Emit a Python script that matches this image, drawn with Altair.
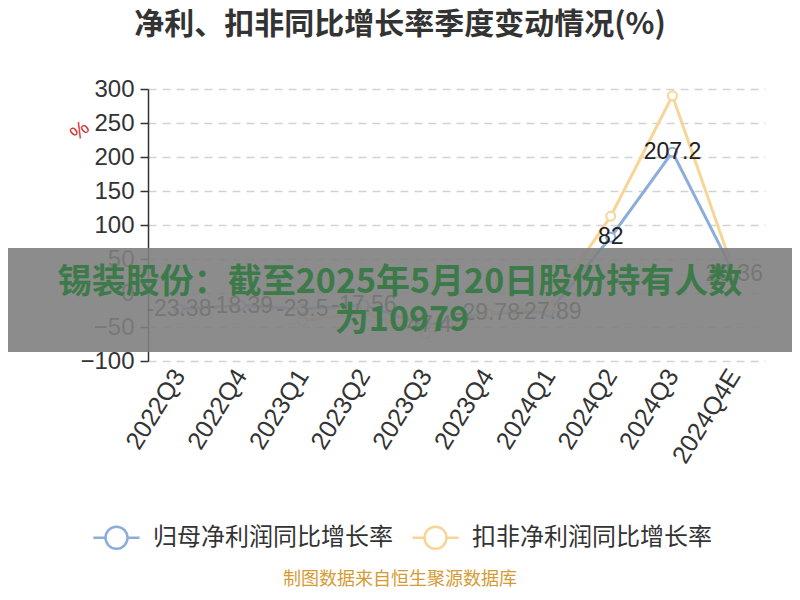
import altair as alt
import pandas as pd

quarters = ["2022Q3", "2022Q4", "2023Q1", "2023Q2", "2023Q3", "2023Q4",
            "2024Q1", "2024Q2", "2024Q3", "2024Q4E"]
series_names = ["归母净利润同比增长率", "扣非净利润同比增长率"]
net_profit = [-23.38, -18.39, -23.5, -17.56, -47.4, -29.78, -27.89, 82, 207.2, 28.36]
net_profit_labels = ["-23.38", "-18.39", "-23.5", "-17.56", "-47.4", "-29.78", "-27.89", "82", "207.2", "28.36"]
deducted = [None, None, -41, -29, -60, -30, -20, 113, 290, 30]
colors = ["#8cadda", "#f8d597"]
y_ticks = [-100, -50, 0, 50, 100, 150, 200, 250, 300]

title_text = "净利、扣非同比增长率季度变动情况(%)"
banner_line1 = "锡装股份：截至2025年5月20日股份持有人数"
banner_line2 = "为10979"
footer_text = "制图数据来自恒生聚源数据库"

rows = []
for q, v, lab in zip(quarters, net_profit, net_profit_labels):
    rows.append({"quarter": q, "series": series_names[0], "value": v, "label": lab})
for q, v in zip(quarters, deducted):
    if v is not None:
        rows.append({"quarter": q, "series": series_names[1], "value": v, "label": ""})
df = pd.DataFrame(rows)

CJK = "Noto Sans CJK SC"
NUM = "Liberation Sans"

x_enc = alt.X("quarter:N", sort=quarters, scale=alt.Scale(domain=quarters),
              axis=alt.Axis(title=None, labelAngle=-58, labelFontSize=25, labelFont=NUM,
                            labelColor="#333", domain=False, ticks=False, labelPadding=10,
                            labelAlign="right", labelBaseline="middle", grid=False))
y_enc = alt.Y("value:Q", scale=alt.Scale(domain=[-100, 300], nice=False, zero=False),
              axis=alt.Axis(title=None, values=y_ticks, labelFontSize=24, labelFont=NUM,
                            labelColor="#333", domainColor="#333", domainWidth=1.5,
                            tickColor="#333", tickSize=8, tickWidth=1.5, labelPadding=6,
                            grid=True, gridDash=[8, 6], gridColor="#d2d2d2", gridWidth=1.5))

color_scale = alt.Scale(domain=series_names, range=colors)

legend_path = "M-2.1,0L-1,0M1,0L2.1,0M1,0A1,1,0,1,1,-1,0A1,1,0,1,1,1,0Z"

base = alt.Chart(df)

lines = base.mark_line(strokeWidth=3).encode(
    x=x_enc, y=y_enc,
    color=alt.Color("series:N", scale=color_scale, sort=series_names,
                    legend=alt.Legend(title=None, orient="none", legendX=-44, legendY=436,
                                      direction="horizontal", symbolType=legend_path,
                                      symbolSize=484, symbolFillColor="white",
                                      symbolStrokeWidth=2.5, labelFontSize=24, labelFont=CJK,
                                      labelColor="#333", labelOffset=24, columnPadding=14,
                                      padding=0, labelLimit=0)),
    detail="series:N",
)

points = base.mark_point(shape="circle", filled=True, fill="white", size=80,
                         strokeWidth=2, opacity=1).encode(
    x=x_enc, y=y_enc,
    stroke=alt.Stroke("series:N", scale=color_scale, legend=None),
)

labels = alt.Chart(df[df["series"] == series_names[0]]).mark_text(
    fontSize=23, font=NUM, color="#222", baseline="middle", align="center").encode(
    x=x_enc, y=y_enc, text="label:N")

one = pd.DataFrame({"a": [1]})

banner = alt.Chart(one).mark_rect(color="#7f7f7f", opacity=0.9).encode(
    x=alt.value(-148), x2=alt.value(652), y=alt.value(159), y2=alt.value(263))

banner_text1 = alt.Chart(pd.DataFrame({"t": [banner_line1]})).mark_text(
    fontSize=34, font=CJK, fontWeight="bold", color="#3d7a4a", align="center",
    baseline="middle").encode(text="t:N", x=alt.value(252), y=alt.value(194))

banner_text2 = alt.Chart(pd.DataFrame({"t": [banner_line2]})).mark_text(
    fontSize=34, font=CJK, fontWeight="bold", color="#3d7a4a", align="center",
    baseline="middle").encode(text="t:N", x=alt.value(254), y=alt.value(232))

title = alt.Chart(pd.DataFrame({"t": [title_text]})).mark_text(
    fontSize=30, font=CJK, fontWeight="bold", color="#333", align="center",
    baseline="middle").encode(text="t:N", x=alt.value(252), y=alt.value(-64))

footer = alt.Chart(pd.DataFrame({"t": [footer_text]})).mark_text(
    fontSize=18, font=CJK, color="#d49b34", align="center", baseline="middle").encode(
    text="t:N", x=alt.value(252), y=alt.value(491))

pct = alt.Chart(pd.DataFrame({"t": ["%"]})).mark_text(
    fontSize=20, font=NUM, color="#d42a2a", angle=320, align="center",
    baseline="middle").encode(text="t:N", x=alt.value(-68), y=alt.value(42))

chart = alt.layer(lines, points, labels, banner, banner_text1, banner_text2, title, footer,
                  pct).properties(
    width=617, height=272,
    padding={"left": 140, "top": 81, "right": 27, "bottom": 231},
    autosize=alt.AutoSizeParams(type="none"),
    background="white",
).configure_view(stroke=None)

chart.save("out.html", embed_options={"renderer": "svg", "actions": False})
